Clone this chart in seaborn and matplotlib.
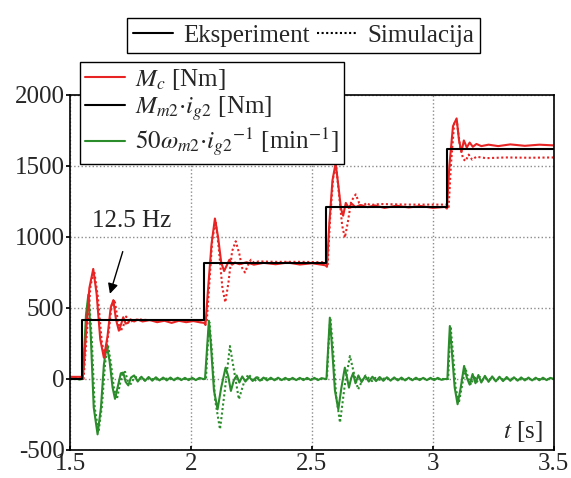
import seaborn as sns
import matplotlib.pyplot as plt
import pandas as pd
from matplotlib.lines import Line2D

sns.set_theme(style='ticks')
plt.rcParams['font.family'] = ['Liberation Serif', 'DejaVu Serif']
plt.rcParams['mathtext.fontset'] = 'stix'
plt.rcParams['axes.unicode_minus'] = False

RED = '#e82323'
GREEN = '#2a8c2a'

# reference torque M_m2*i_g2 (steps)
t_ref = [1.50, 1.551, 2.055, 2.557, 3.057, 3.50]
m_ref = [0, 412, 815, 1212, 1618, 1618]

# M_c, experiment
t_mc_exp = [1.50, 1.545, 1.553, 1.565, 1.580, 1.596, 1.610, 1.625, 1.640, 1.655, 1.668, 1.679,
            1.690, 1.702, 1.712, 1.720, 1.730, 1.740, 1.750, 1.765, 1.78, 1.80, 1.83, 1.86,
            1.89, 1.92, 1.95, 1.98, 2.01, 2.04, 2.055, 2.060, 2.070, 2.085, 2.099, 2.112,
            2.125, 2.137, 2.148, 2.159, 2.170, 2.182, 2.20, 2.23, 2.26, 2.30, 2.35, 2.40,
            2.45, 2.50, 2.54, 2.557, 2.562, 2.572, 2.585, 2.598, 2.610, 2.620, 2.629, 2.640,
            2.652, 2.664, 2.68, 2.70, 2.73, 2.76, 2.80, 2.85, 2.90, 2.95, 3.00, 3.05,
            3.058, 3.068, 3.083, 3.098, 3.108, 3.118, 3.128, 3.140, 3.152, 3.165, 3.18, 3.20,
            3.23, 3.27, 3.32, 3.38, 3.44, 3.50]
mc_exp = [15, 15, 10, 300, 640, 775, 600, 280, 150, 300, 500, 555,
          420, 340, 390, 435, 390, 395, 420, 405, 418, 405, 415, 400,
          410, 395, 410, 400, 408, 398, 395, 380, 620, 950, 1130, 1000,
          820, 760, 800, 840, 805, 820, 808, 822, 805, 818, 808, 820,
          806, 815, 805, 800, 790, 1100, 1400, 1520, 1350, 1200, 1150, 1240,
          1205, 1235, 1210, 1225, 1210, 1222, 1205, 1220, 1208, 1218, 1205, 1212,
          1200, 1500, 1780, 1835, 1680, 1600, 1680, 1630, 1665, 1635, 1655, 1640,
          1650, 1640, 1652, 1642, 1650, 1645]

# M_c, simulation
t_mc_sim = [1.50, 1.548, 1.556, 1.570, 1.585, 1.600, 1.615, 1.632, 1.645, 1.660, 1.672, 1.684,
            1.697, 1.708, 1.720, 1.732, 1.745, 1.760, 1.78, 1.82, 2.00, 2.058, 2.065, 2.075,
            2.088, 2.102, 2.115, 2.130, 2.142, 2.155, 2.170, 2.185, 2.200, 2.212, 2.223, 2.235,
            2.248, 2.26, 2.28, 2.35, 2.45, 2.56, 2.565, 2.575, 2.588, 2.600, 2.612, 2.625,
            2.636, 2.648, 2.662, 2.681, 2.695, 2.71, 2.725, 2.74, 2.78, 2.90, 3.06, 3.065,
            3.075, 3.088, 3.100, 3.112, 3.125, 3.135, 3.148, 3.162, 3.18, 3.22, 3.30, 3.40, 3.50]
mc_sim = [10, 10, 0, 330, 660, 760, 580, 250, 170, 330, 520, 560,
          420, 335, 370, 440, 400, 410, 420, 415, 415, 412, 400, 650,
          980, 1110, 920, 640, 540, 680, 900, 970, 880, 780, 750, 800,
          840, 820, 828, 825, 825, 822, 800, 1130, 1420, 1500, 1300, 1080,
          995, 1100, 1250, 1300, 1240, 1215, 1240, 1225, 1232, 1228, 1228, 1210,
          1520, 1800, 1800, 1640, 1550, 1535, 1580, 1545, 1565, 1555, 1560, 1558, 1560]

# 50*w_m2*i_g2^-1, experiment
t_w_exp = [1.50, 1.52, 1.54, 1.548, 1.556, 1.566, 1.576, 1.586, 1.598, 1.614, 1.628, 1.640,
           1.652, 1.664, 1.676, 1.686, 1.698, 1.710, 1.720, 1.730, 1.741, 1.752, 1.765, 1.780,
           1.795, 1.810, 1.825, 1.840, 1.855, 1.870, 1.885, 1.900, 1.915, 1.930, 1.945, 1.960,
           1.975, 1.990, 2.005, 2.020, 2.035, 2.050,
           2.058, 2.066, 2.074, 2.082, 2.095, 2.110, 2.125, 2.143, 2.154, 2.165, 2.177, 2.189,
           2.200, 2.212, 2.225, 2.240, 2.255, 2.270, 2.285, 2.300, 2.315, 2.330, 2.345, 2.360,
           2.375, 2.390, 2.405, 2.420, 2.435, 2.450, 2.465, 2.480, 2.495, 2.510, 2.525, 2.540,
           2.555,
           2.560, 2.567, 2.574, 2.582, 2.595, 2.609, 2.622, 2.636, 2.645, 2.653, 2.662, 2.670,
           2.680, 2.692, 2.705, 2.720, 2.735, 2.750, 2.765, 2.780, 2.795, 2.810, 2.825, 2.840,
           2.855, 2.870, 2.885, 2.900, 2.915, 2.930, 2.945, 2.960, 2.975, 2.990, 3.005, 3.020,
           3.035, 3.050,
           3.060, 3.065, 3.070, 3.078, 3.090, 3.102, 3.115, 3.129, 3.140, 3.152, 3.164, 3.176,
           3.188, 3.200, 3.215, 3.230, 3.245, 3.260, 3.275, 3.290, 3.305, 3.320, 3.335, 3.350,
           3.365, 3.380, 3.395, 3.410, 3.425, 3.440, 3.455, 3.470, 3.485, 3.500]
w_exp = [0, 6, -4, 0, 100, 450, 595, 300, -200, -390, -200, 100,
         245, 120, -60, -140, -50, 40, 45, -20, -45, 10, 25, -18,
         16, -14, 14, -12, 12, -10, 10, -10, 10, -9, 9, -8,
         8, -8, 8, -8, 8, 0,
         0, 200, 410, 250, -80, -214, -60, 80, 20, -84, -10, 25,
         -25, 18, -18, 15, -14, 12, -12, 10, -10, 9, -9, 9,
         -8, 8, -8, 8, -8, 8, -8, 8, -8, 8, -8, 6,
         0,
         0, 220, 432, 250, -80, -214, -60, 80, 10, -61, 5, 40,
         -30, 25, -22, 20, -18, 16, -15, 14, -13, 12, -12, 11,
         -10, 10, -10, 9, -9, 9, -8, 8, -8, 8, -8, 8,
         -6, 0,
         0, 200, 373, 200, -60, -178, -60, 92, 10, -40, 35, -30,
         28, -25, 22, -20, 18, -17, 16, -15, 14, -13, 12, -12,
         11, -10, 10, -10, 9, -9, 9, -8, 8, 0]

# 50*w_m2*i_g2^-1, simulation
t_w_sim = [1.50, 1.550, 1.558, 1.568, 1.578, 1.590, 1.602, 1.618, 1.632, 1.645, 1.657, 1.670,
           1.682, 1.694, 1.706, 1.718, 1.728, 1.740, 1.752, 1.765, 1.78, 1.80, 1.82, 1.85,
           1.90, 2.00, 2.058,
           2.062, 2.068, 2.076, 2.085, 2.100, 2.120, 2.140, 2.161, 2.180, 2.198, 2.218, 2.237,
           2.250, 2.262, 2.275, 2.29, 2.31, 2.35, 2.45, 2.56,
           2.562, 2.568, 2.576, 2.586, 2.600, 2.616, 2.636, 2.657, 2.675, 2.691, 2.708, 2.722,
           2.735, 2.748, 2.762, 2.78, 2.80, 2.85, 2.95, 3.06,
           3.063, 3.068, 3.073, 3.082, 3.094, 3.107, 3.120, 3.134, 3.146, 3.158, 3.170, 3.182,
           3.195, 3.21, 3.225, 3.24, 3.26, 3.28, 3.30, 3.35, 3.50]
w_sim = [0, 0, 100, 440, 590, 280, -200, -370, -190, 110, 240, 100,
         -70, -140, -40, 45, 50, -20, -35, 10, 15, -8, 6, -4,
         2, 0, 0,
         0, 200, 400, 230, -150, -354, -80, 232, 40, -143, -30, 33,
         10, -20, 12, -8, 5, -3, 0, 0,
         0, 220, 430, 240, -120, -307, -40, 162, 30, -73, -10, 25,
         5, -15, 8, -6, 4, -2, 0, 0,
         0, 200, 370, 200, -60, -170, -50, 80, 5, -40, 25, -20,
         15, -12, 10, -8, 6, -5, 4, -2, 0]

legend_top = ['Eksperiment', 'Simulacija']
legend_sig = [r'$M_c$ [Nm]', r'$M_{m2}{\cdot}i_{g2}$ [Nm]',
              r'$50\omega_{m2}{\cdot}i_{g2}{}^{-1}$ [min$^{-1}$]']

fig = plt.figure(figsize=(5.71, 4.78), dpi=100)
ax = fig.add_axes([0.1226, 0.0586, 0.8474, 0.7427])

lw = 1.5
dots = (0, (1, 1.2))
sns.lineplot(x=t_w_sim, y=w_sim, ax=ax, color=GREEN, lw=lw, ls=dots, sort=False)
sns.lineplot(x=t_w_exp, y=w_exp, ax=ax, color=GREEN, lw=lw, sort=False)
sns.lineplot(x=t_mc_sim, y=mc_sim, ax=ax, color=RED, lw=lw, ls=dots, sort=False)
sns.lineplot(x=t_mc_exp, y=mc_exp, ax=ax, color=RED, lw=lw, sort=False)
sns.lineplot(x=t_ref, y=m_ref, ax=ax, color='black', lw=lw, drawstyle='steps-post', sort=False)

ax.set_xlim(1.5, 3.5)
ax.set_ylim(-500, 2000)
ax.set_xticks([1.5, 2, 2.5, 3, 3.5])
ax.set_xticklabels(['1.5', '2', '2.5', '3', '3.5'])
ax.set_yticks([-500, 0, 500, 1000, 1500, 2000])
ax.grid(True, ls=':', color='#8c8c8c', lw=1)
for s in ax.spines.values():
    s.set_linewidth(1.2)
    s.set_color('black')
ax.tick_params(axis='y', direction='out', length=3, labelsize=18, pad=1, color='black')
ax.tick_params(axis='x', direction='in', length=3, labelsize=18, pad=2, color='black')

ax.text(3.29, -370, r'$t$ [s]', fontsize=18, ha='left', va='center')
ax.annotate('12.5 Hz', xy=(1.665, 600), xytext=(1.756, 1110), fontsize=18,
            ha='center', va='center',
            arrowprops=dict(arrowstyle='-|>', color='black', lw=1,
                            mutation_scale=15, shrinkA=12, shrinkB=0))

h_top = [Line2D([], [], color='black', lw=lw), Line2D([], [], color='black', lw=lw, ls=dots)]
fig.legend(h_top, legend_top, loc='center', bbox_to_anchor=(0.532, 0.926), ncol=2,
           fontsize=18, frameon=True, fancybox=False, edgecolor='black', framealpha=1,
           handlelength=1.6, handletextpad=0.4, columnspacing=0.3, borderpad=0.25,
           borderaxespad=0).get_frame().set_linewidth(1)

h_sig = [Line2D([], [], color=RED, lw=lw), Line2D([], [], color='black', lw=lw),
         Line2D([], [], color=GREEN, lw=lw)]
fig.legend(h_sig, legend_sig, loc='upper left', bbox_to_anchor=(0.140, 0.870),
           fontsize=18, frameon=True, fancybox=False, edgecolor='black', framealpha=1,
           handlelength=1.6, handletextpad=0.4, labelspacing=0.1, borderpad=0.2,
           borderaxespad=0).get_frame().set_linewidth(1)

fig.savefig('out.png', dpi=100)
